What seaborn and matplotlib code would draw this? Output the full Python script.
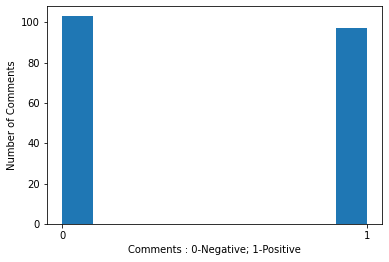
import numpy as np
import pandas as pd
import matplotlib
matplotlib.use("Agg")
import matplotlib.pyplot as plt
import seaborn as sns

labels = [0, 1]
counts = [103, 97]
tick_labels = ["0", "1"]

df = pd.DataFrame({"label": np.repeat(labels, counts)})

plt.rcParams['font.family'] = ['DejaVu Sans']
fig = plt.figure(figsize=(389 / 72, 262 / 72), dpi=72)
ax = fig.add_axes([47 / 389, 1 - 224 / 262, (382 - 47) / 389, (224 - 6) / 262])
sns.histplot(data=df, x="label", bins=10, stat="count", color="#1f77b4",
             alpha=1, linewidth=0, ax=ax)
ax.set_xticks(labels)
ax.set_xticklabels(tick_labels)
ax.set_xlabel("Comments : 0-Negative; 1-Positive")
ax.set_ylabel("Number of Comments")
fig.savefig("out.png", dpi=72)
